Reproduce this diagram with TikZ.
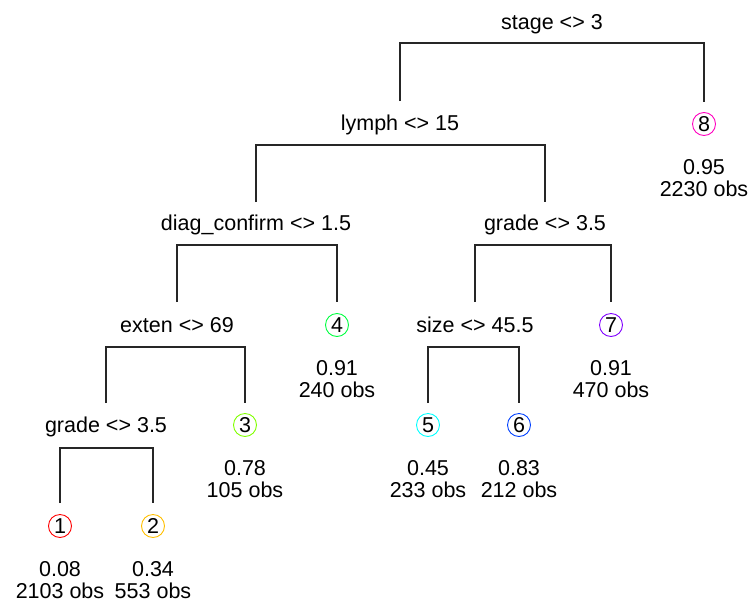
\documentclass[tikz,border=0pt]{standalone}
\usepackage{fontspec}
\setmainfont{Liberation Sans}
\usetikzlibrary{calc}
% leaf colours (rainbow palette)
\definecolor{lc1}{HTML}{FF0000}
\definecolor{lc2}{HTML}{FFBF00}
\definecolor{lc3}{HTML}{80FF00}
\definecolor{lc4}{HTML}{00FF40}
\definecolor{lc5}{HTML}{00FFFF}
\definecolor{lc6}{HTML}{0040FF}
\definecolor{lc7}{HTML}{8000FF}
\definecolor{lc8}{HTML}{FF00BF}
\begin{document}
\begin{tikzpicture}[x=1pt,y=-1pt,
  every node/.style={font=\fontsize{21.5}{22.5}\selectfont, inner sep=0pt,
    text height=15.5pt, text depth=0pt},
  split/.style={},
  leaf/.style={circle, draw=#1, line width=0.9pt, minimum size=23pt},
  info/.style={},
  branch/.style={line width=1.1pt, draw=black!85}]
\useasboundingbox (0,0) rectangle (754,605);

% split labels
\node[split] (stage) at (552,22)  {stage <> 3};
\node[split] (lymph) at (400,123) {lymph <> 15};
\node[split] (diag)  at (256,223) {diag\_confirm <> 1.5};
\node[split] (gradeA) at (545,223) {grade <> 3.5};
\node[split] (exten) at (177,325) {exten <> 69};
\node[split] (size)  at (475,325) {size <> 45.5};
\node[split] (gradeB) at (106,425) {grade <> 3.5};

% terminal nodes
\node[leaf=lc1] (l1) at (60,526)  {1};
\node[leaf=lc2] (l2) at (153,526) {2};
\node[leaf=lc3] (l3) at (245,425) {3};
\node[leaf=lc4] (l4) at (337,325) {4};
\node[leaf=lc5] (l5) at (428,425) {5};
\node[leaf=lc6] (l6) at (519,425) {6};
\node[leaf=lc7] (l7) at (611,325) {7};
\node[leaf=lc8] (l8) at (704,124) {8};

% terminal summaries
\foreach \n/\v/\c in {1/0.08/2103, 2/0.34/553, 3/0.78/105, 4/0.91/240,
                      5/0.45/233, 6/0.83/212, 7/0.91/470, 8/0.95/2230}{
  \node[info] (v\n) at ($(l\n)+(0,43)$) {\v};
  \node[info] (n\n) at ($(l\n)+(0,65)$) {\c\ obs};
}

% branches
\draw[branch] ($(lymph)+(0,-22)$) |- ($(stage)+(0,21)$) -| ($(l8)+(0,-22)$);
\draw[branch] ($(diag)+(0,-21)$) |- ($(lymph)+(0,22)$) -| ($(gradeA)+(0,-21)$);
\draw[branch] ($(exten)+(0,-23)$) |- ($(diag)+(0,22)$) -| ($(l4)+(0,-23)$);
\draw[branch] ($(size)+(0,-23)$) |- ($(gradeA)+(0,22)$) -| ($(l7)+(0,-23)$);
\draw[branch] ($(gradeB)+(0,-22)$) |- ($(exten)+(0,22)$) -| ($(l3)+(0,-22)$);
\draw[branch] ($(l5)+(0,-22)$) |- ($(size)+(0,22)$) -| ($(l6)+(0,-22)$);
\draw[branch] ($(l1)+(0,-23)$) |- ($(gradeB)+(0,23)$) -| ($(l2)+(0,-23)$);
\end{tikzpicture}
\end{document}
